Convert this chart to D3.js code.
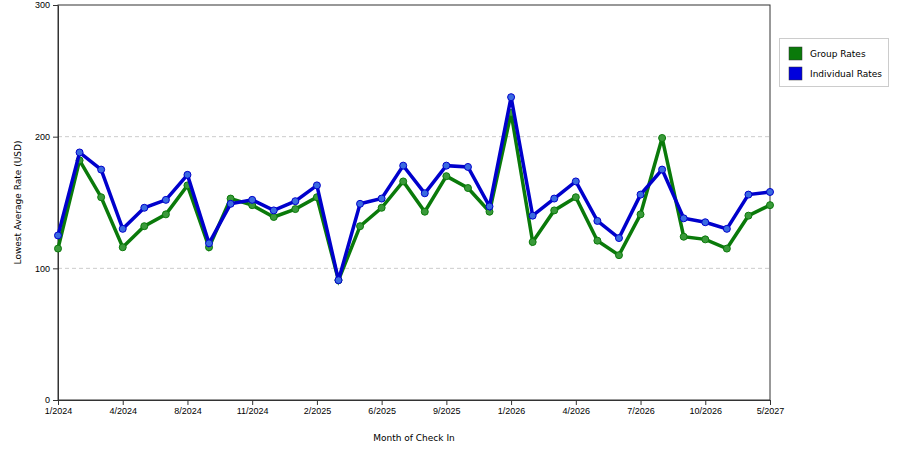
<!DOCTYPE html>
<html><head><meta charset="utf-8">
<script src="https://cdn.jsdelivr.net/npm/d3@7"></script>
<style>body{margin:0;background:#fff}svg{font-family:"DejaVu Sans",sans-serif}</style>
</head><body><svg id="c" width="900" height="450"></svg>
<script>
const tickLabels = ["1/2024","4/2024","8/2024","11/2024","2/2025","6/2025","9/2025","1/2026","4/2026","7/2026","10/2026","5/2027"];
const groupRates = [115,182,154,116,132,141,163,116,153,148,139,145,154,91,132,146,166,143,170,161,143,218,120,144,154,121,110,141,199,124,122,115,140,148];
const individualRates = [125,188,175,130,146,152,171,119,149,152,144,151,163,91,149,153,178,157,178,177,147,230,140,153,166,136,123,156,175,138,135,130,156,158];
const categories = groupRates.map((d,i)=>i);
const yTicks = [0,100,200,300];

const svg = d3.select("#c");
const L=58,R=770,T=5,B=400;
const x = d3.scalePoint().domain(categories).range([L,R]);
const y = d3.scaleLinear().domain([0,300]).range([B,T]);

svg.append("g").selectAll("line").data([100,200]).join("line")
  .attr("x1",L).attr("x2",R).attr("y1",d=>y(d)).attr("y2",d=>y(d))
  .attr("stroke","#ccc").attr("stroke-dasharray","4,3");
svg.append("rect").attr("x",L).attr("y",T).attr("width",R-L).attr("height",B-T)
  .attr("fill","none").attr("stroke","#333");

const yAxis = svg.append("g").attr("transform",`translate(${L},0)`)
  .call(d3.axisLeft(y).tickValues(yTicks).tickSize(5).tickSizeOuter(0));
const tickIdx = tickLabels.map((d,i)=>i*3);
const xAxis = svg.append("g").attr("transform",`translate(0,${B})`)
  .call(d3.axisBottom(x).tickValues(tickIdx).tickFormat((d,i)=>tickLabels[i]).tickSize(5).tickSizeOuter(0));
[yAxis,xAxis].forEach(a=>{a.selectAll("text").attr("font-size",9).attr("fill","#000");a.selectAll("line,path").attr("stroke","#333");});

svg.append("text").attr("x",(L+R)/2).attr("y",441).attr("text-anchor","middle").attr("font-size",9).text("Month of Check In");
svg.append("text").attr("transform",`translate(21,${(T+B)/2}) rotate(-90)`).attr("text-anchor","middle").attr("font-size",9).text("Lowest Average Rate (USD)");

const line = d3.line().x((d,i)=>x(i)).y(d=>y(d));
const series=[{v:groupRates,c:"#0a7a0a",p:"#3a9a3a"},{v:individualRates,c:"#0000cc",p:"#3a6ae0"}];
series.forEach(s=>{
  svg.append("path").datum(s.v).attr("d",line).attr("fill","none").attr("stroke",s.c).attr("stroke-width",3.5);
  svg.append("g").selectAll("circle").data(s.v).join("circle")
    .attr("cx",(d,i)=>x(i)).attr("cy",d=>y(d)).attr("r",3.5).attr("fill",s.p).attr("stroke",s.c).attr("stroke-width",1);
});

const lg = svg.append("g");
lg.append("rect").attr("x",779.5).attr("y",38.5).attr("width",109).attr("height",48).attr("fill","#fff").attr("stroke","#ccc");
[["Group Rates","#0a7a0a"],["Individual Rates","#0000dd"]].forEach((d,i)=>{
  lg.append("rect").attr("x",789).attr("y",47+i*20).attr("width",13).attr("height",13).attr("fill",d[1]).attr("stroke","#333").attr("stroke-width",0.5);
  lg.append("text").attr("x",810).attr("y",57+i*20).attr("font-size",9).text(d[0]);
});
</script></body></html>
